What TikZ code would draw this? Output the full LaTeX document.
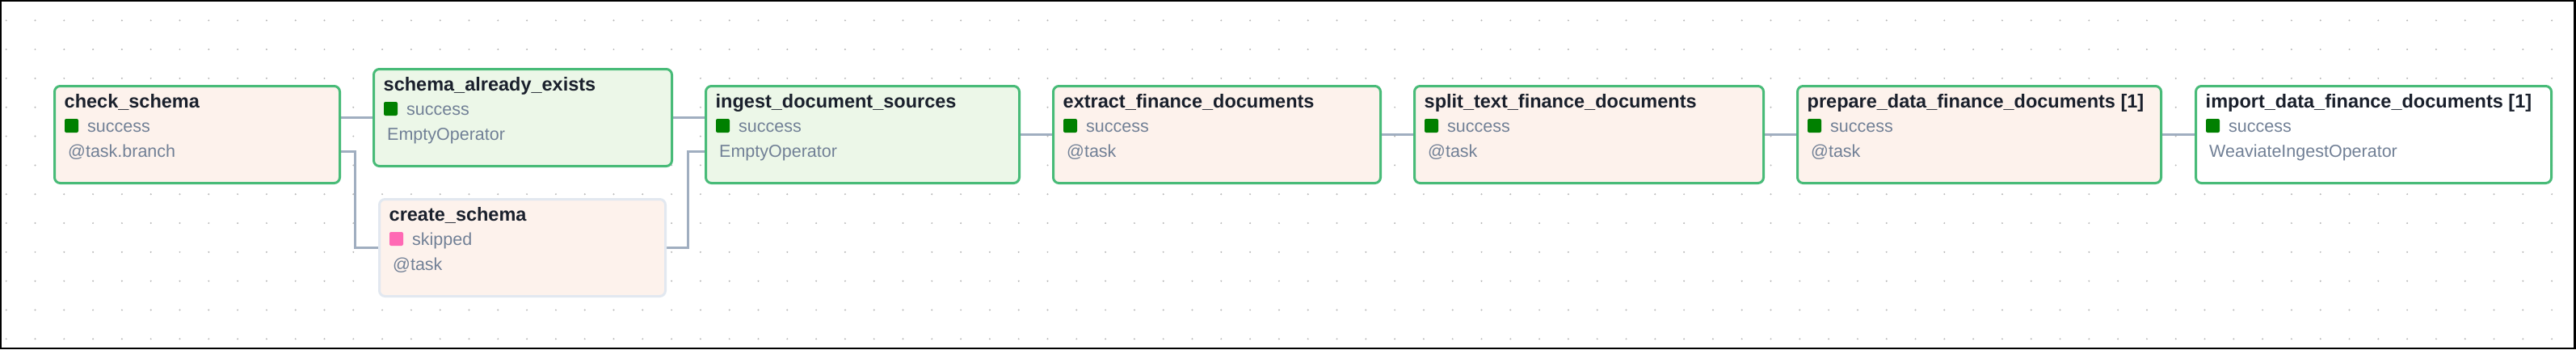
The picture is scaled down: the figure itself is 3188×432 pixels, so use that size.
\documentclass[tikz,border=0pt]{standalone}
\usepackage{fontspec}
\setmainfont{Liberation Sans}
\usetikzlibrary{backgrounds}
\definecolor{peach}{HTML}{FDF2EC}
\definecolor{mint}{HTML}{ECF7E8}
\definecolor{okgreen}{HTML}{48BB78}
\definecolor{paleborder}{HTML}{E2E8F0}
\definecolor{titlecol}{HTML}{1A202C}
\definecolor{subcol}{HTML}{718096}
\definecolor{edgecol}{HTML}{A0AEC0}
\definecolor{dotcol}{HTML}{B8B8B8}
\definecolor{successcol}{HTML}{008000}
\definecolor{skipcol}{HTML}{FF69B4}
\tikzset{
  taskbox/.style={rectangle, rounded corners=7pt, line width=3pt, minimum height=120pt, inner sep=0pt, outer sep=0pt},
  pyfill/.style={fill=peach, draw=okgreen},
  emptyfill/.style={fill=mint, draw=okgreen},
  plainfill/.style={fill=white, draw=okgreen},
  skipfill/.style={fill=peach, draw=paleborder},
  titletext/.style={anchor=base west, inner sep=0pt, text=titlecol, font=\fontsize{23.5}{28}\selectfont\bfseries},
  subtext/.style={anchor=base west, inner sep=0pt, text=subcol, font=\fontsize{21.5}{26}\selectfont},
  edge/.style={draw=edgecol, line width=3pt}
}
\newcommand\tasknode[9]{%
  \node[taskbox,#5,minimum width=#4-3,anchor=north west] (#1) at (#2+1.5,#3+1.5) {};
  \node[titletext] (#1-title) at ([shift={(12,26.5)}]#1.north west) {#6};
  \fill[#7, rounded corners=2pt] ([shift={(12.5,40.5)}]#1.north west) rectangle ++(17,17);
  \node[subtext] (#1-state) at ([shift={(40.5,56.5)}]#1.north west) {#8};
  \node[subtext] (#1-sub) at ([shift={(16.5,87.5)}]#1.north west) {#9};
}
\begin{document}
\begin{tikzpicture}[x=1pt,y=-1pt]
\useasboundingbox (0,0) rectangle (3188,432);
\tasknode{check}{66}{105}{356}{pyfill}{check\_schema}{successcol}{success}{@task.branch}
\tasknode{sae}{461}{84}{372}{emptyfill}{schema\_already\_exists}{successcol}{success}{EmptyOperator}
\tasknode{create}{468}{245}{357}{skipfill}{create\_schema}{skipcol}{skipped}{@task}
\tasknode{ingest}{872}{105}{391}{emptyfill}{ingest\_document\_sources}{successcol}{success}{EmptyOperator}
\tasknode{extract}{1302}{105}{408}{pyfill}{extract\_finance\_documents}{successcol}{success}{@task}
\tasknode{split}{1749}{105}{435}{pyfill}{split\_text\_finance\_documents}{successcol}{success}{@task}
\tasknode{prepare}{2223}{105}{453}{pyfill}{prepare\_data\_finance\_documents [1]}{successcol}{success}{@task}
\tasknode{import}{2716}{105}{443}{plainfill}{import\_data\_finance\_documents [1]}{successcol}{success}{WeaviateIngestOperator}
\begin{scope}[on background layer]
\fill[black] (0,0) rectangle (3188,432);
\fill[white] (2,2) rectangle (3185,430);
\foreach \i in {0,...,88}{
  \foreach \j in {0,...,11}{
    \fill[dotcol] (7.7+35.8*\i,25.3+35.82*\j) circle (1.1);
  }
}
\draw[edge] ([shift={(0,-21)}]check.east) -- (sae.west);
\draw[edge] ([shift={(0,21)}]check.east) -- ++(19,0) |- (create.west);
\draw[edge] (sae.east) -- ([shift={(0,-21)}]ingest.west);
\draw[edge] (create.east) -- ++(28,0) |- ([shift={(0,21)}]ingest.west);
\draw[edge] (ingest.east) -- (extract.west);
\draw[edge] (extract.east) -- (split.west);
\draw[edge] (split.east) -- (prepare.west);
\draw[edge] (prepare.east) -- (import.west);
\end{scope}
\end{tikzpicture}
\end{document}
